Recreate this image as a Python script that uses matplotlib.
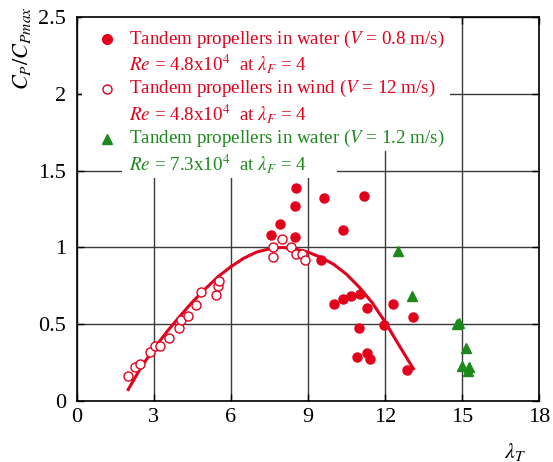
import matplotlib
matplotlib.use('Agg')
import matplotlib.pyplot as plt
from matplotlib.patches import Rectangle

plt.rcParams['font.family'] = ['Liberation Serif', 'DejaVu Serif']
plt.rcParams['mathtext.fontset'] = 'stix'

RED = '#e3001b'
GREEN = '#1b8a1b'

# water, V = 0.8 m/s (filled circles)
water08_x = [7.56, 7.9, 8.53, 8.5, 8.49, 9.62, 11.18, 10.37, 9.5, 10.01, 10.38, 10.66,
             11.03, 11.31, 12.3, 13.1, 11.0, 11.96, 10.9, 11.31, 11.41, 12.84]
water08_y = [1.08, 1.15, 1.39, 1.27, 1.067, 1.32, 1.335, 1.115, 0.92, 0.634, 0.664, 0.682,
             0.699, 0.606, 0.634, 0.545, 0.478, 0.493, 0.288, 0.31, 0.273, 0.201]

# wind, V = 12 m/s (open circles)
wind_x = [2.0, 2.26, 2.45, 2.84, 3.04, 3.23, 3.6, 3.99, 4.04, 4.34, 4.64, 4.84, 5.42, 5.49,
          5.52, 7.65, 7.62, 7.97, 8.32, 8.53, 8.75, 8.88]
wind_y = [0.162, 0.223, 0.244, 0.32, 0.357, 0.359, 0.413, 0.478, 0.526, 0.554, 0.628, 0.71,
          0.688, 0.747, 0.781, 1.002, 0.935, 1.056, 1.006, 0.959, 0.959, 0.916]

# water, V = 1.2 m/s (triangles)
water12_x = [12.49, 13.04, 14.79, 14.87, 15.15, 14.98, 15.28, 15.21]
water12_y = [0.976, 0.682, 0.5, 0.508, 0.342, 0.227, 0.223, 0.197]

# fitted curve
fit_x = [2.0, 2.5, 3.0, 3.5, 4.0, 4.5, 5.0, 5.5, 6.0, 6.5, 7.0, 7.6, 8.0, 8.5, 9.0, 9.5,
         10.0, 10.5, 11.0, 11.5, 12.0, 12.5, 13.1]
fit_y = [0.075, 0.22, 0.34, 0.45, 0.55, 0.645, 0.73, 0.81, 0.875, 0.93, 0.97, 0.995, 1.0,
         0.99, 0.97, 0.935, 0.89, 0.825, 0.74, 0.64, 0.515, 0.375, 0.21]

legend_lines = [
    ('Tandem propellers in water ($V$ = 0.8 m/s)', RED),
    ('$Re$ = 4.8x10$^4$  at $\\lambda_F$ = 4', RED),
    ('Tandem propellers in wind ($V$ = 12 m/s)', RED),
    ('$Re$ = 4.8x10$^4$  at $\\lambda_F$ = 4', RED),
    ('Tandem propellers in water ($V$ = 1.2 m/s)', GREEN),
    ('$Re$ = 7.3x10$^4$  at $\\lambda_F$ = 4', GREEN),
]

fig = plt.figure(figsize=(5.53, 4.62), dpi=100)
ax = fig.add_axes([0.139, 0.132, 0.836, 0.831])

ax.set_xlim(0, 18)
ax.set_ylim(0, 2.5)
ax.set_xticks([0, 3, 6, 9, 12, 15, 18])
ax.set_yticks([0, 0.5, 1, 1.5, 2, 2.5])
ax.set_yticklabels(['0', '0.5', '1', '1.5', '2', '2.5'])
ax.tick_params(direction='in', length=5, width=1, top=True, right=True,
               labelsize=16)
ax.tick_params(axis='y', pad=8)
ax.tick_params(axis='x', pad=5)
ax.grid(True, color='#3a3a3a', linewidth=1.0)
ax.set_axisbelow(True)
for s in ax.spines.values():
    s.set_linewidth(1.2)

# white area behind the legend text
ax.add_patch(Rectangle((0.011, 0.652), 0.796, 0.348, transform=ax.transAxes,
                       facecolor='white', edgecolor='none', zorder=1.5))
ax.add_patch(Rectangle((0.097, 0.582), 0.466, 0.072, transform=ax.transAxes,
                       facecolor='white', edgecolor='none', zorder=1.5))

ax.plot(fit_x, fit_y, color=RED, linewidth=2.2, zorder=3)
ax.plot(water08_x, water08_y, 'o', color=RED, markersize=6.5, zorder=4)
ax.plot(wind_x, wind_y, 'o', markerfacecolor='white', markeredgecolor=RED,
        markeredgewidth=1.0, markersize=6.5, zorder=4)
ax.plot(water12_x, water12_y, '^', color=GREEN, markersize=7.5, zorder=4)

# legend
ys = [0.943, 0.878, 0.813, 0.748, 0.683, 0.618]
for (txt, col), y in zip(legend_lines, ys):
    ax.text(0.112, y, txt, transform=ax.transAxes, color=col, fontsize=13.7,
            va='center', ha='left', zorder=5)
ax.plot([0.065], [ys[0]], 'o', color=RED, markersize=7, transform=ax.transAxes, zorder=5)
ax.plot([0.065], [ys[2]], 'o', markerfacecolor='white', markeredgecolor=RED,
        markersize=6.5, transform=ax.transAxes, zorder=5)
ax.plot([0.065], [ys[4]], '^', color=GREEN, markersize=7.5, transform=ax.transAxes, zorder=5)

ax.text(0.948, -0.133, r'$\lambda_T$', transform=ax.transAxes, fontsize=16,
        ha='center', va='center')
ax.text(-0.118, 0.92, r'$C_P/C_{Pmax}$', transform=ax.transAxes, fontsize=16,
        rotation=90, ha='center', va='center')

fig.savefig('out.png', dpi=100)
